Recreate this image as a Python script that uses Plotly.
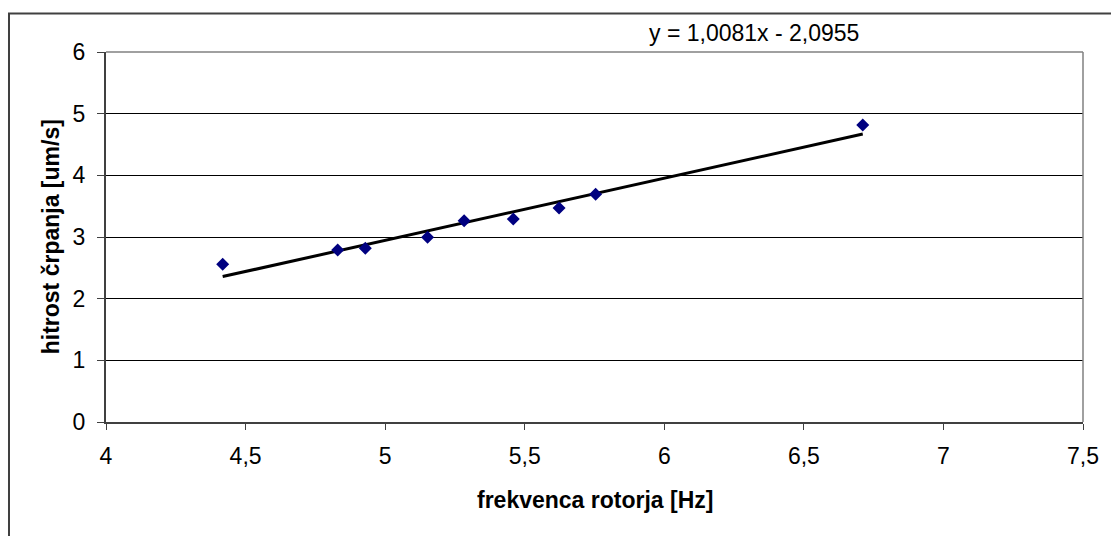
import plotly.graph_objects as go

# Measured rotor frequency and pumping speed
frekvenca = [4.418, 4.83, 4.929, 5.152, 5.283, 5.459, 5.623, 5.754, 6.711]
hitrost = [2.557, 2.789, 2.816, 2.995, 3.264, 3.29, 3.47, 3.692, 4.816]

# Linear trendline coefficients (y = k*x + n)
k = 1.0081
n = -2.0955

x_ticks = [4, 4.5, 5, 5.5, 6, 6.5, 7, 7.5]
y_ticks = [0, 1, 2, 3, 4, 5, 6]

FONT = "Liberation Sans, Arial, sans-serif"
FS = 23
W, H = 1111, 536
L, R, T, B = 106, 23, 52, 114
pw, ph = W - L - R, H - T - B

def px_to_paper_x(px):
    return (px - L) / pw

def px_to_paper_y(py):
    return (H - B - py) / ph

x_line = [min(frekvenca), max(frekvenca)]
y_line = [k * v + n for v in x_line]

fig = go.Figure()

fig.add_trace(go.Scatter(
    x=x_line, y=y_line, mode="lines",
    line=dict(color="black", width=3),
    showlegend=False,
))

fig.add_trace(go.Scatter(
    x=frekvenca, y=hitrost, mode="markers",
    marker=dict(symbol="diamond", size=10, color="#000080", line=dict(width=0)),
    showlegend=False, cliponaxis=False,
))

def fmt(v):
    return f"{abs(v):.4f}".replace(".", ",")

eq_text = f"y = {fmt(k)}x {'-' if n < 0 else '+'} {fmt(n)}"

fig.update_layout(
    width=W, height=H,
    margin=dict(l=L, r=R, t=T, b=B),
    paper_bgcolor="white", plot_bgcolor="white",
    separators=",.",
    font=dict(family=FONT, size=FS, color="black"),
    xaxis=dict(
        range=[4, 7.5], tickvals=x_ticks,
        showgrid=False, zeroline=False,
        showline=True, linecolor="#404040", linewidth=2,
        ticks="outside", ticklen=6, tickwidth=1, tickcolor="#404040",
        ticklabelstandoff=6,
        tickfont=dict(family=FONT, size=FS, color="black"),
    ),
    yaxis=dict(
        range=[0, 6], tickvals=y_ticks,
        showgrid=True, gridcolor="black", gridwidth=1,
        zeroline=False,
        showline=True, linecolor="#404040", linewidth=2,
        ticks="outside", ticklen=7, tickwidth=1, tickcolor="#404040",
        ticklabelstandoff=7,
        tickfont=dict(family=FONT, size=FS, color="black"),
    ),
    shapes=[
        # plot-area frame on top and right
        dict(type="line", xref="paper", yref="paper", x0=0, x1=1, y0=1, y1=1,
             line=dict(color="#808080", width=1.5)),
        dict(type="line", xref="paper", yref="paper", x0=1, x1=1, y0=0, y1=1,
             line=dict(color="#808080", width=1.5)),
        # chart-area border
        dict(type="rect", xref="paper", yref="paper",
             x0=px_to_paper_x(8.5), x1=px_to_paper_x(W + 20),
             y0=px_to_paper_y(H + 20), y1=px_to_paper_y(13.5),
             line=dict(color="#404040", width=2), fillcolor="rgba(0,0,0,0)",
             layer="above"),
    ],
    annotations=[
        dict(text=eq_text, xref="paper", yref="paper",
             x=px_to_paper_x(757), y=px_to_paper_y(33),
             xanchor="center", yanchor="middle", showarrow=False,
             font=dict(family=FONT, size=FS, color="black")),
        dict(text="<b>frekvenca rotorja [Hz]</b>", xref="paper", yref="paper",
             x=0.5, y=px_to_paper_y(500),
             xanchor="center", yanchor="middle", showarrow=False,
             font=dict(family=FONT, size=FS, color="black")),
        dict(text="<b>hitrost črpanja [um/s]</b>", xref="paper", yref="paper",
             x=px_to_paper_x(51), y=0.5, textangle=-90,
             xanchor="center", yanchor="middle", showarrow=False,
             font=dict(family=FONT, size=FS, color="black")),
    ],
)

fig.write_html("out.html")
